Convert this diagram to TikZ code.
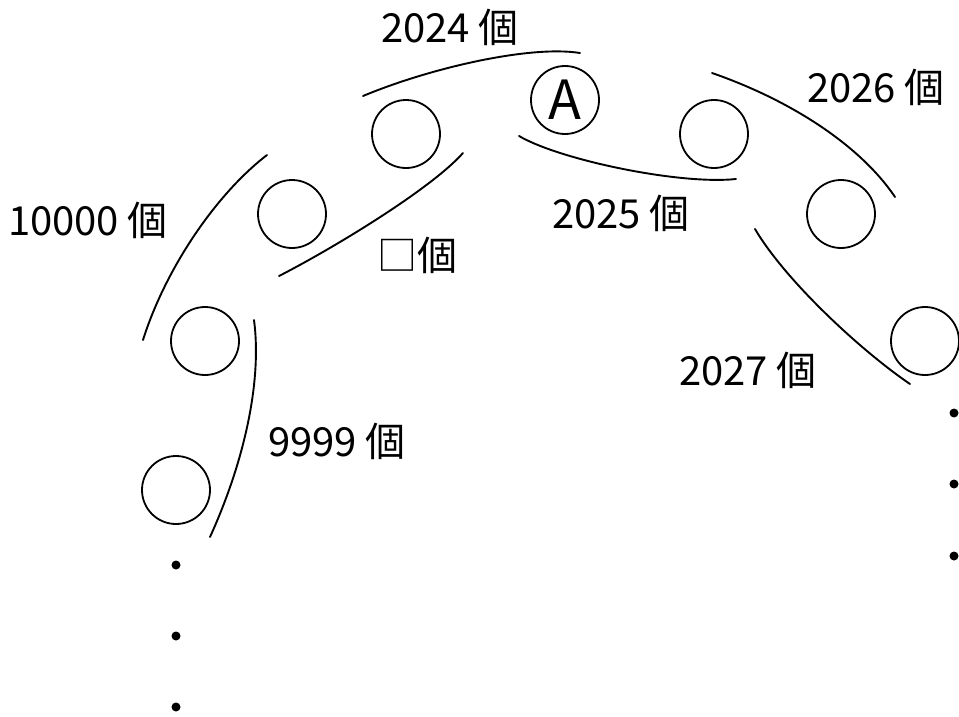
\documentclass[tikz,border=0pt]{standalone}
\usepackage{fontspec}
\setmainfont{Noto Sans CJK JP}
\tikzset{
  ball/.style={draw, circle, line width=1.8pt, minimum size=68pt, inner sep=0pt},
  brace/.style={line width=1.9pt, line cap=round},
  count/.style={font=\fontsize{40}{44}\selectfont, inner sep=0pt},
  dot/.style={fill, circle, minimum size=9pt, inner sep=0pt}
}

\begin{document}
\begin{tikzpicture}[x=1pt, y=-1pt]
  \useasboundingbox (0,0) rectangle (959,717);

  % balls, left arm
  \node[ball] (bL1) at (176,490) {};
  \node[ball] (bL2) at (205,341) {};
  \node[ball] (bL3) at (292,214) {};
  \node[ball] (bL4) at (406,134) {};
  % ball A on top
  \node[ball, font=\fontsize{54}{58}\selectfont] (bA) at (565,100) {A};
  % balls, right arm
  \node[ball] (bR1) at (714,134) {};
  \node[ball] (bR2) at (841,214) {};
  \node[ball] (bR3) at (925,341) {};

  % dots
  \foreach \y [count=\i] in {565,636,707} { \node[dot] (dL\i) at (176,\y) {}; }
  \foreach \y [count=\i] in {413,484,556} { \node[dot] (dR\i) at (954,\y) {}; }

  % groups
  \draw[brace] (363,96) .. controls (430,68) and (530,45) .. (580,53);
  \draw[brace] (463,153) .. controls (430,190) and (330,250) .. (279,276);
  \draw[brace] (267,155) .. controls (215,195) and (165,270) .. (143,340);
  \draw[brace] (254,320) .. controls (262,380) and (245,460) .. (210,537);
  \draw[brace] (519,136) .. controls (560,160) and (680,185) .. (736,179);
  \draw[brace] (712,73) .. controls (790,100) and (860,145) .. (895,197);
  \draw[brace] (755,229) .. controls (785,280) and (860,350) .. (910,384);

  % counts
  \node[count] (n2024) at (450,27) {2024 個};
  \node[count] (nbox) at (417,255) {□個};
  \node[count] (n10000) at (88,220) {10000 個};
  \node[count] (n9999) at (337,441) {9999 個};
  \node[count] (n2025) at (621,213) {2025 個};
  \node[count] (n2026) at (876,87) {2026 個};
  \node[count] (n2027) at (748,370) {2027 個};
\end{tikzpicture}
\end{document}
